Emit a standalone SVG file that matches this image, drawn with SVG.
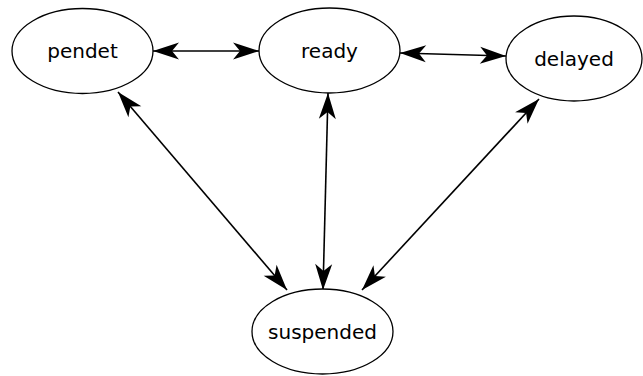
<svg xmlns="http://www.w3.org/2000/svg" width="643" height="376" viewBox="0 0 643 376">
<style>
.node ellipse{fill:#fff;stroke:#000;stroke-width:1.3}
.node text{font-family:"DejaVu Sans",sans-serif;font-size:20px;fill:#000;text-anchor:middle}
.edge{stroke:#000;stroke-width:1.6;fill:none;marker-start:url(#ah);marker-end:url(#ah)}
</style>
<defs>
<marker id="ah" markerUnits="userSpaceOnUse" viewBox="-27 -9 28 18" refX="0" refY="0" markerWidth="28" markerHeight="18" orient="auto-start-reverse">
<path d="M0,0 L-26,-8.5 L-19,0 L-26,8.5 Z" fill="#000"/>
</marker>
</defs>
<rect width="643" height="376" fill="#fff"/>
<g id="connectors">
<line class="edge" x1="153" y1="51" x2="259" y2="51"/>
<line class="edge" x1="400" y1="53" x2="506" y2="56"/>
<line class="edge" x1="118" y1="92" x2="287" y2="290"/>
<line class="edge" x1="328" y1="93" x2="323" y2="290"/>
<line class="edge" x1="539" y1="99" x2="362" y2="290"/>
</g>
<g id="pendet" class="node"><ellipse cx="82.5" cy="51" rx="70.5" ry="42.5"/><text x="82.5" y="58">pendet</text></g>
<g id="ready" class="node"><ellipse cx="329.5" cy="50.5" rx="70.5" ry="42.5"/><text x="329.5" y="57.5">ready</text></g>
<g id="delayed" class="node"><ellipse cx="574" cy="58.5" rx="68" ry="42.5"/><text x="574" y="65.5">delayed</text></g>
<g id="suspended" class="node"><ellipse cx="322.5" cy="331.5" rx="70.5" ry="42.5"/><text x="322.5" y="338.5">suspended</text></g>
</svg>
